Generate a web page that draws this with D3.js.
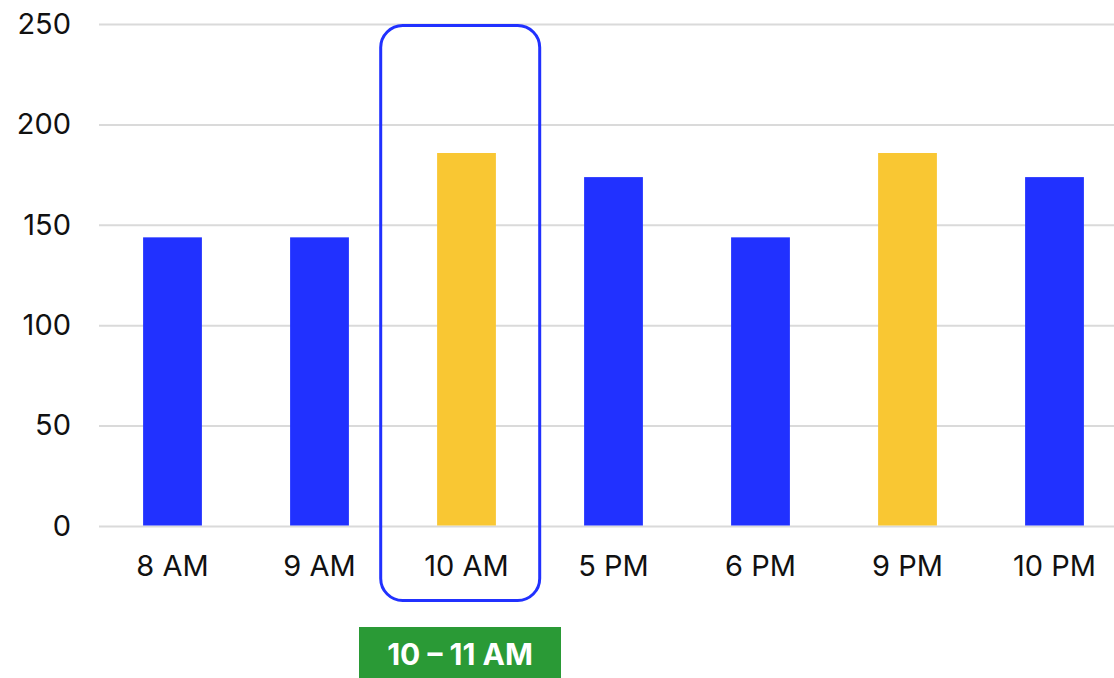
<!DOCTYPE html>
<html>
<head>
<meta charset="utf-8">
<script src="https://cdn.jsdelivr.net/npm/d3@7"></script>
<style>
  html, body { margin: 0; padding: 0; background: #fff; }
  svg { display: block; font-family: Inter, "Noto Sans", sans-serif; }
</style>
</head>
<body>
<svg id="chart" width="1114" height="678"></svg>
<script>
// Hourly values
const categories = ["8 AM", "9 AM", "10 AM", "5 PM", "6 PM", "9 PM", "10 PM"];
const values = [144, 144, 186, 174, 144, 186, 174];
const peakHours = ["10 AM", "9 PM"];
const yTicks = [0, 50, 100, 150, 200, 250];
const focusCategory = "10 AM";
const focusLabel = "10 – 11 AM";

const svg = d3.select("#chart");

const x = d3.scaleBand()
  .domain(categories)
  .range([99, 1128])
  .paddingInner(0.6)
  .paddingOuter(0.3);

const y = d3.scaleLinear()
  .domain([0, 250])
  .range([526.5, 24.5]);

// Horizontal gridlines
svg.append("g")
  .selectAll("line")
  .data(yTicks)
  .join("line")
  .attr("x1", 99)
  .attr("x2", 1128)
  .attr("y1", d => y(d))
  .attr("y2", d => y(d))
  .attr("stroke", "#dadada")
  .attr("stroke-width", 2);

// Y axis labels
const yAxis = d3.axisLeft(y).tickValues(yTicks).tickSize(0).tickPadding(0);
svg.append("g")
  .attr("transform", "translate(71,0)")
  .call(yAxis)
  .call(g => g.select(".domain").remove())
  .call(g => g.selectAll("text")
    .attr("font-size", 29)
    .attr("font-family", "Inter, sans-serif")
    .attr("fill", "#111")
    .attr("dy", "0.3em"));

// Bars
svg.append("g")
  .selectAll("rect")
  .data(categories.map((c, i) => ({ c, v: values[i] })))
  .join("rect")
  .attr("x", d => x(d.c))
  .attr("width", x.bandwidth())
  .attr("y", d => y(d.v))
  .attr("height", d => y(0) - y(d.v) - 1)
  .attr("fill", d => peakHours.includes(d.c) ? "#f9c733" : "#2131ff");

// X axis labels
const xAxis = d3.axisBottom(x).tickSize(0).tickPadding(0);
svg.append("g")
  .attr("transform", "translate(0,565.5)")
  .call(xAxis)
  .call(g => g.select(".domain").remove())
  .call(g => g.selectAll("text")
    .attr("font-size", 29)
    .attr("font-family", "Inter, sans-serif")
    .attr("fill", "#111")
    .attr("dy", "0.36em"));

// Highlight frame around the focused hour
const cx = x(focusCategory) + x.bandwidth() / 2;
svg.append("rect")
  .attr("x", cx - 85.8)
  .attr("y", 25.5)
  .attr("width", 159)
  .attr("height", 575)
  .attr("rx", 22)
  .attr("fill", "none")
  .attr("stroke", "#2131ff")
  .attr("stroke-width", 3);

// Time range badge
svg.append("rect")
  .attr("x", cx - 107.5)
  .attr("y", 627)
  .attr("width", 202)
  .attr("height", 51)
  .attr("fill", "#2a9a36");

svg.append("text")
  .attr("x", cx - 6.5)
  .attr("y", 654)
  .attr("dy", "0.36em")
  .attr("text-anchor", "middle")
  .attr("font-size", 30)
  .attr("font-weight", 700)
  .attr("fill", "#fff")
  .text(focusLabel);
</script>
</body>
</html>
